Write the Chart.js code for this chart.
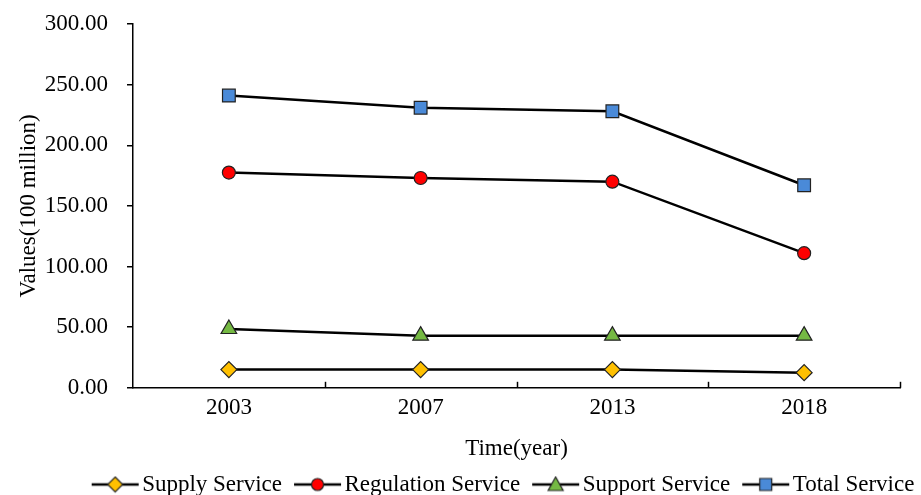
<!DOCTYPE html>
<html>
<head>
<meta charset="utf-8">
<script src="https://cdn.jsdelivr.net/npm/chart.js@4"></script>
<style>
  html, body { margin: 0; padding: 0; background: #fff; }
</style>
</head>
<body>
<canvas id="chart" width="921" height="495"></canvas>
<script>
const years = ["2003", "2007", "2013", "2018"];
const supply = [15.0, 15.0, 15.0, 12.5];
const regulation = [177.5, 173.0, 170.0, 111.0];
const support = [48.5, 43.0, 43.0, 43.0];
const total = [241.0, 231.0, 228.0, 167.0];

const FONT = "'Liberation Serif', 'Times New Roman', serif";
const FSIZE = 23;
const EDGE = "#222";

Chart.defaults.font.family = FONT;

// legend swatch: short black line with the marker in the middle
// (canvas padded on the left so the line sits close to the text)
function swatch(style, fill) {
    const c = document.createElement("canvas");
    c.width = 58; c.height = 18;
    const g = c.getContext("2d");
    g.translate(8, 0);
    g.strokeStyle = "#000"; g.lineWidth = 2.5;
    g.beginPath(); g.moveTo(0, 9); g.lineTo(47, 9); g.stroke();
    g.fillStyle = fill; g.strokeStyle = EDGE; g.lineWidth = 1.2;
    g.beginPath();
    if (style === "circle") g.arc(23.5, 9, 6, 0, Math.PI * 2);
    if (style === "rect") g.rect(17.5, 3, 12, 12);
    if (style === "rectRot") { g.moveTo(23.5, 1.5); g.lineTo(31, 9); g.lineTo(23.5, 16.5); g.lineTo(16, 9); g.closePath(); }
    if (style === "triangle") { g.moveTo(23.5, 1.5); g.lineTo(31, 15); g.lineTo(16, 15); g.closePath(); }
    g.fill(); g.stroke();
    return c;
}

const series = [
    { label: "Supply Service", data: supply, style: "rectRot", fill: "#FFC000", r: 8 },
    { label: "Regulation Service", data: regulation, style: "circle", fill: "#FF0000", r: 6.5 },
    { label: "Support Service", data: support, style: "triangle", fill: "#75B943", r: 9 },
    { label: "Total Service", data: total, style: "rect", fill: "#4A8AD8", r: 9 }
];

// inward tick marks on the category axis, between categories
const xTicks = {
    id: "xTicks",
    afterDraw(chart) {
        const x = chart.scales.x, ctx = chart.ctx;
        const step = x.getPixelForValue(1) - x.getPixelForValue(0);
        ctx.save();
        ctx.strokeStyle = "#000"; ctx.lineWidth = 1.5;
        for (let i = 0; i < years.length; i++) {
            const px = Math.round(x.getPixelForValue(i) + step / 2) + 0.5;
            ctx.beginPath(); ctx.moveTo(px, x.top); ctx.lineTo(px, x.top - 6); ctx.stroke();
        }
        ctx.restore();
    }
};

// legend takes a fixed strip and sits a bit right of centre, like the original
const legendPlace = {
    id: "legendPlace",
    beforeLayout(chart) {
        const lg = chart.legend;
        if (lg._fixed) return;
        const fit = lg.fit;
        lg.fit = function () { fit.call(this); this.height = 32; };
        lg._fixed = true;
    },
    afterLayout(chart) {
        const lg = chart.legend;
        const dx = 512 - (lg.left + lg.right + 15) / 2;
        const dy = 483 - (lg.top + 15 + 10);
        lg.left += dx; lg.right += dx;
        lg.top += dy; lg.bottom = chart.height;
    }
};

function draw() {
    new Chart(document.getElementById("chart"), {
        type: "line",
        data: {
            labels: years,
            datasets: series.map(s => ({
                label: s.label,
                data: s.data,
                borderColor: "#000",
                borderWidth: 2.5,
                pointStyle: s.style,
                pointRadius: s.r,
                pointBackgroundColor: s.fill,
                pointBorderColor: EDGE,
                pointBorderWidth: 1.2,
                tension: 0,
                fill: false,
                legendImg: swatch(s.style, s.fill)
            }))
        },
        options: {
            responsive: false,
            animation: false,
            layout: { padding: { left: 15, right: 21, top: 24, bottom: 0 } },
            plugins: {
                tooltip: { enabled: false },
                legend: {
                    position: "bottom",
                    labels: {
                        usePointStyle: true,
                        pointStyleWidth: 36,
                        boxHeight: 18,
                        padding: 15,
                        color: "#000",
                        font: { family: FONT, size: FSIZE },
                        generateLabels(chart) {
                            return chart.data.datasets.map((d, i) => ({
                                text: d.label,
                                pointStyle: d.legendImg,
                                fillStyle: d.pointBackgroundColor,
                                strokeStyle: EDGE,
                                lineWidth: 0,
                                datasetIndex: i,
                                hidden: false
                            }));
                        }
                    }
                }
            },
            scales: {
                x: {
                    offset: true,
                    grid: { display: false, drawTicks: false },
                    border: { display: true, color: "#000", width: 1.5 },
                    ticks: { color: "#000", font: { family: FONT, size: FSIZE }, padding: 6 },
                    title: { display: true, text: "Time(year)", color: "#000", font: { family: FONT, size: FSIZE }, padding: { top: 8, bottom: 0 } }
                },
                y: {
                    min: 0,
                    max: 300,
                    afterFit: scale => {
                        scale.width = 118;
                        scale.paddingTop = 12;
                        scale.paddingBottom = 12;
                    },
                    grid: { drawOnChartArea: false, tickLength: 6, color: "#000", lineWidth: 1.5 },
                    border: { display: true, color: "#000", width: 1.5 },
                    ticks: {
                        stepSize: 50,
                        color: "#000",
                        font: { family: FONT, size: FSIZE },
                        padding: 19,
                        callback: v => v.toFixed(2)
                    },
                    title: { display: true, text: "Values(100 million)", color: "#000", font: { family: FONT, size: FSIZE }, padding: { top: 0, bottom: 3 } }
                }
            }
        },
        plugins: [xTicks, legendPlace]
    });
}

document.fonts.load(FSIZE + "px 'Liberation Serif'").then(draw, draw);
</script>
</body>
</html>
